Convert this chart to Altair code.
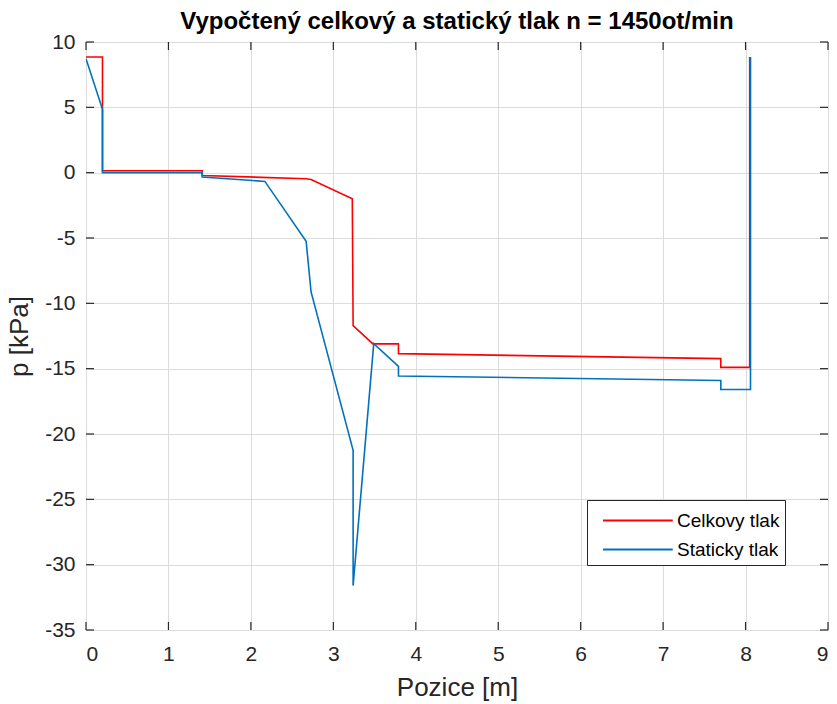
import altair as alt
import pandas as pd

# Celkovy tlak (total pressure)
celk_x = [0.0, 0.2, 0.2, 1.41, 1.41, 2.67, 2.73, 3.23, 3.24, 3.48, 3.79, 3.79, 7.70, 7.70, 8.05, 8.05]
celk_p = [8.85, 8.85, 0.15, 0.15, -0.22, -0.46, -0.52, -2.0, -11.7, -13.1, -13.1, -13.85, -14.23, -14.9, -14.9, 8.85]

# Staticky tlak (static pressure)
stat_x = [0.0, 0.2, 0.2, 1.41, 1.41, 2.17, 2.67, 2.73, 3.24, 3.24, 3.49, 3.79, 3.79, 7.70, 7.70, 8.06, 8.06]
stat_p = [8.72, 4.85, 0.0, 0.0, -0.33, -0.67, -5.25, -9.13, -21.25, -31.6, -13.08, -14.82, -15.56, -15.9, -16.6, -16.6, 8.85]

series_names = ["Celkovy tlak", "Staticky tlak"]
series_colors = ["#FF0000", "#0072BD"]

x_ticks = [0, 1, 2, 3, 4, 5, 6, 7, 8, 9]
y_ticks = [10, 5, 0, -5, -10, -15, -20, -25, -30, -35]

rows = []
for i, (x, p) in enumerate(zip(celk_x, celk_p)):
    rows.append({"series": series_names[0], "i": i, "x": x, "p": p})
for i, (x, p) in enumerate(zip(stat_x, stat_p)):
    rows.append({"series": series_names[1], "i": i, "x": x, "p": p})
df = pd.DataFrame(rows)

W, H = 742, 588
FONT = "Liberation Sans"
AX = "#262626"
TL = 8

xscale = alt.Scale(domain=[0, 9], nice=False, zero=False)
yscale = alt.Scale(domain=[-35, 10], nice=False, zero=False)

lines = alt.Chart(df).mark_line(strokeWidth=1.6, clip=True).encode(
    x=alt.X("x:Q", scale=xscale,
            axis=alt.Axis(values=x_ticks, title="Pozice [m]", ticks=False, domain=False,
                          labelExpr="datum.value + ''",
                          labelPadding=13, titlePadding=10, gridColor="#DCDCDC",
                          labelFontSize=21, titleFontSize=26, labelColor=AX,
                          titleColor=AX, titleFontWeight="normal", labelFont=FONT, titleFont=FONT)),
    y=alt.Y("p:Q", scale=yscale,
            axis=alt.Axis(values=y_ticks, title="p [kPa]", ticks=False, domain=False,
                          labelExpr="datum.value + ''",
                          labelPadding=11, titlePadding=12, gridColor="#DCDCDC",
                          labelFontSize=21, titleFontSize=26, labelColor=AX,
                          titleColor=AX, titleFontWeight="normal", labelFont=FONT, titleFont=FONT)),
    color=alt.Color("series:N",
                    scale=alt.Scale(domain=series_names, range=series_colors),
                    legend=alt.Legend(title=None, orient="none", legendX=501, legendY=458,
                                      symbolType="M-0.31,0H4.5", symbolSize=841, symbolStrokeWidth=1.8,
                                      symbolFillColor="transparent",
                                      labelFontSize=19, labelFont=FONT, labelColor="#000000",
                                      labelExpr="datum.label + '\u2007\u2007'",
                                      strokeColor=AX, fillColor="white", padding=5,
                                      rowPadding=3, labelOffset=54)),
    order="i:Q",
)

xt = pd.DataFrame({"x": x_ticks})
yt = pd.DataFrame({"p": y_ticks})

tick_bottom = alt.Chart(xt).mark_rule(color=AX, strokeWidth=1.2).encode(
    x=alt.X("x:Q", scale=xscale), y=alt.value(H - TL), y2=alt.value(H))
tick_top = alt.Chart(xt).mark_rule(color=AX, strokeWidth=1.2).encode(
    x=alt.X("x:Q", scale=xscale), y=alt.value(0), y2=alt.value(TL))
tick_left = alt.Chart(yt).mark_rule(color=AX, strokeWidth=1.2).encode(
    y=alt.Y("p:Q", scale=yscale), x=alt.value(0), x2=alt.value(TL))
tick_right = alt.Chart(yt).mark_rule(color=AX, strokeWidth=1.2).encode(
    y=alt.Y("p:Q", scale=yscale), x=alt.value(W - TL), x2=alt.value(W))

chart = alt.layer(lines, tick_bottom, tick_top, tick_left, tick_right).properties(
    width=W, height=H,
    title=alt.TitleParams("Vypočtený celkový a statický tlak n = 1450ot/min",
                          fontSize=24, fontWeight="bold", font=FONT, color="#000000",
                          anchor="middle", frame="group", offset=-3),
    autosize=alt.AutoSizeParams(type="none"),
    padding={"left": 86, "top": 42, "right": 9, "bottom": 74},
).configure_view(stroke=AX, strokeWidth=1.3).configure(background="white")

chart.save("out.html", embed_options={"renderer": "svg", "actions": False})
